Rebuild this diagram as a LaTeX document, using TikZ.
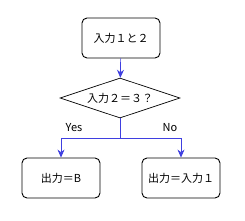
\documentclass[tikz,border=0pt]{standalone}
\usepackage{fontspec}
\setmainfont{Noto Sans CJK JP}
\usetikzlibrary{arrows.meta, positioning, shapes.geometric}
\definecolor{flowBlue}{HTML}{3F3FE0}

\begin{document}
\begin{tikzpicture}[
        x=1pt, y=-1pt,
        font=\fontsize{11}{13}\selectfont,
        box/.style={draw, line width=0.9pt, rounded corners=5pt, minimum width=78pt,
                    minimum height=40pt, align=center, inner sep=1pt},
        cond/.style={draw, line width=0.7pt, diamond, aspect=3, minimum width=120pt,
                     minimum height=40pt, inner sep=0pt},
        flow/.style={draw=flowBlue, line width=0.7pt},
        arr/.style={flow, -{Stealth[length=8pt, width=7pt]}}
      ]
      \useasboundingbox (0,0) rectangle (245,220);
      \node[box]  (start) at (121,38)  {入力１と２};
      \node[cond] (test)  at (120,98)  {入力２＝３？};
      \node[box]  (outB)  at (61,178)  {出力＝B};
      \node[box]  (outIn) at (181,178) {出力＝入力１};
      \coordinate (split) at (120,138);
      \draw[arr] (start) -- (test);
      \draw[flow] (test.south) -- (split);
      \draw[arr] (split) -| (outB);
      \draw[arr] (split) -| (outIn);
      \node (yes) at (74,128) {Yes};
      \node (no)  at (170,128) {No};
    \end{tikzpicture}
\end{document}
